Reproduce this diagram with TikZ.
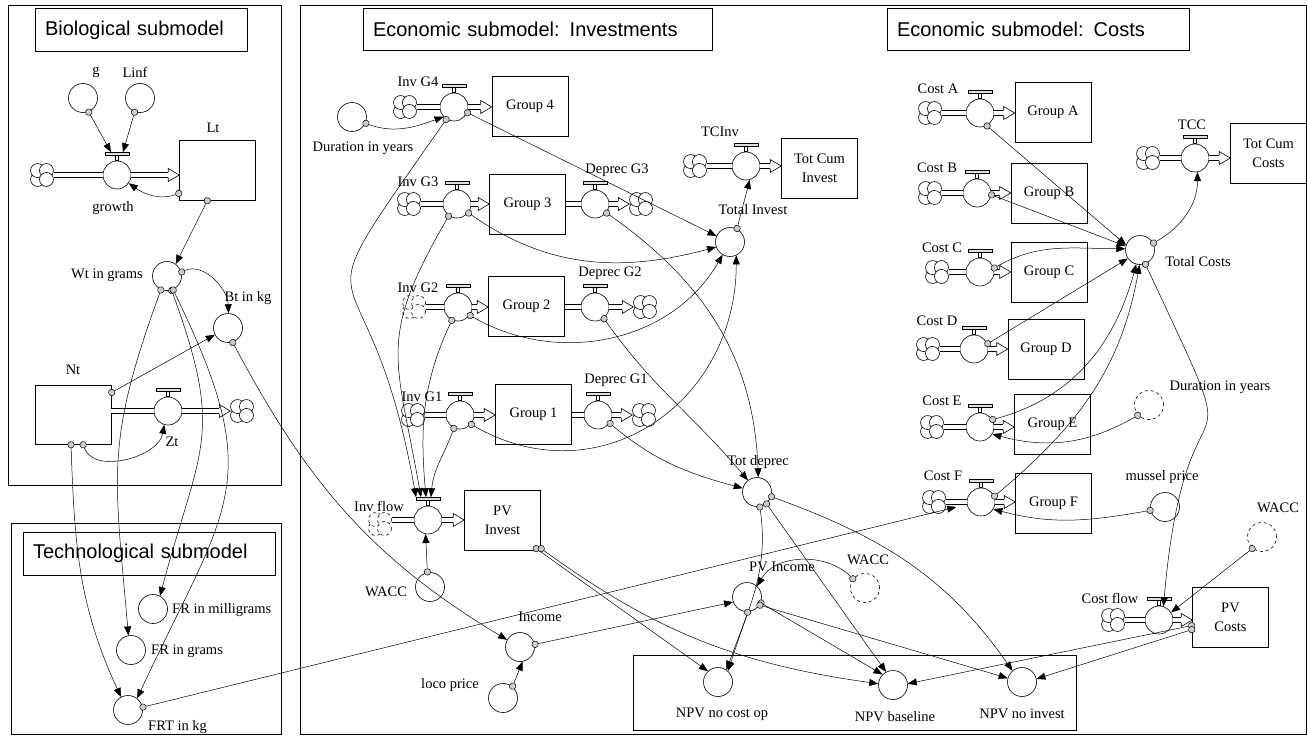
\documentclass[tikz,border=0pt]{standalone}
\usepackage{fontspec}
\setmainfont{Liberation Serif}
\newfontfamily\titlefont{Liberation Sans}
\usetikzlibrary{arrows.meta,calc}
\newcommand{\lblfont}{\fontsize{14.5}{19}\selectfont}
\newcommand{\mkvalve}[3]{%
  \node[valvec] (#1) at (#2,#3) {};
  \draw[line width=0.6pt, fill=white] ($(#1.north)+(-1.5,0)$) rectangle ($(#1.north)+(1.5,-5)$);
  \draw[line width=0.6pt, fill=gray!25] ($(#1.north)+(-12,-5)$) rectangle ($(#1.north)+(12,-8.5)$);
  \coordinate (#1-h) at ($(#1.north)+(0,-8.5)$);
}
\newcommand{\mkcloud}[4][]{%
  \node[cloudn] (#2) at (#3,#4) {};
  \foreach \ang in {135,-135,-45,45} \draw[line width=0.6pt, fill=white, #1] ($(#2)+(\ang:6.3)$) circle (7);
}
\newcommand{\pipeA}[2]{\draw[pipe] (#2.west -| #1.east) -- (#2.west);}
\newcommand{\pipeB}[2]{%
  \coordinate (#1-end) at (#1.east -| #2.west);
  \draw[pipe] (#1.east) -- ([xshift=-11pt]#1-end);
  \draw[line width=0.6pt, fill=white] ([xshift=-11pt,yshift=2.6pt]#1-end) -- ([xshift=-11pt,yshift=6.5pt]#1-end) -- (#1-end) -- ([xshift=-11pt,yshift=-6.5pt]#1-end) -- ([xshift=-11pt,yshift=-2.6pt]#1-end);
}
\tikzset{
  every node/.style={font=\lblfont},
  frame/.style={draw, line width=0.8pt},
  titlebox/.style={draw, line width=0.8pt, font=\titlefont\fontsize{20}{23}\selectfont, inner xsep=10pt, inner ysep=0pt, minimum height=43pt, align=left},
  conv/.style={draw, circle, minimum size=29pt, inner sep=0pt, line width=0.6pt},
  ghost/.style={conv, dashed},
  valvec/.style={draw, circle, minimum size=28pt, inner sep=0pt, line width=0.6pt, fill=white},
  stock/.style={draw, rectangle, minimum width=76pt, minimum height=60pt, inner sep=0pt, line width=0.6pt, align=center},
  cloudn/.style={circle, minimum size=23pt, inner sep=0pt},
  lbl/.style={inner sep=0pt},
  pipe/.style={double=white, double distance=4pt, line width=0.6pt},
  conn/.style={line width=0.5pt, shorten <=-3pt, {Circle[length=7pt, fill=gray!40]}-{Triangle[length=9pt, width=7pt]}},
}
\begin{document}
\begin{tikzpicture}[x=1pt,y=-1pt]
\useasboundingbox (0,0) rectangle (1307,736);
% frames
\draw[frame] (8,5) rectangle (281,485);
\draw[frame] (11,523) rectangle (281,734.5);
\draw[frame] (300,5) rectangle (1306.5,734.5);
\draw[frame] (633,655) rectangle (1076,730);
% titles
\node[titlebox, text width=192pt] (tbio) at (141,30) {Biological submodel};
\node[titlebox, text width=232pt] (ttech) at (149,553.5) {Technological submodel};
\node[titlebox, text width=329pt, minimum height=42pt] (tinv) at (537.5,29) {Economic submodel: Investments};
\node[titlebox, text width=282pt, minimum height=42pt] (tcost) at (1038,29) {Economic submodel: Costs};

% ---------- biological ----------
\node[conv] (g) at (83,98) {};
\node[lbl] (lg) at (96,72) {g};
\node[conv] (linf) at (140,98) {};
\node[lbl] (llinf) at (135,72) {Linf};
\mkcloud{cgrowth}{42}{175}
\mkvalve{growth}{117}{175}
\node[lbl] (lgrowth) at (113,208) {growth};
\node[stock] (Lt) at (217.5,170) {};
\node[lbl] (lLt) at (213,128) {Lt};
\pipeA{cgrowth}{growth}
\pipeB{growth}{Lt}
\node[conv] (wt) at (167,276) {};
\node[lbl] (lwt) at (107,275) {Wt in grams};
\node[conv] (bt) at (228,328) {};
\node[lbl] (lbt) at (248,298) {Bt in kg};
\node[stock, minimum height=59pt] (Nt) at (73,414.5) {};
\node[lbl] (lNt) at (73,370) {Nt};
\mkvalve{zt}{168}{411}
\mkcloud{czt}{242}{411}
\node[lbl] (lzt) at (172,442) {Zt};
\pipeA{Nt}{zt}
\pipeB{zt}{czt}
% technological
\node[conv] (frmg) at (153,609) {};
\node[lbl, anchor=west] (lfrmg) at (172,610) {FR in milligrams};
\node[conv] (frg) at (131,650) {};
\node[lbl, anchor=west] (lfrg) at (151,651) {FR in grams};
\node[conv] (frt) at (128,710) {};
\node[lbl, anchor=west] (lfrt) at (148,727) {FRT in kg};

% ---------- investments ----------
\node[conv] (dur) at (352,117) {};
\node[lbl] (ldur) at (363,148) {Duration in years};
\mkcloud{cinv4}{405}{107}
\mkvalve{inv4}{454}{107}
\node[lbl] (linv4) at (418,82) {Inv G4};
\node[stock] (g4) at (530,106) {Group 4};
\pipeA{cinv4}{inv4}
\pipeB{inv4}{g4}

\mkcloud{cinv3}{409}{204}
\mkvalve{inv3}{457}{204}
\node[lbl] (linv3) at (418,182) {Inv G3};
\node[stock] (g3) at (527.5,204.5) {Group 3};
\mkvalve{dep3}{595}{204}
\mkcloud{cdep3}{641}{204}
\node[lbl] (ldep3) at (617,170) {Deprec G3};
\pipeA{cinv3}{inv3}
\pipeB{inv3}{g3}
\pipeA{g3}{dep3}
\pipeB{dep3}{cdep3}

\mkcloud[dashed]{cinv2}{414}{307}
\mkvalve{inv2}{458}{307}
\node[lbl] (linv2) at (418,288) {Inv G2};
\node[stock] (g2) at (526.5,306.5) {Group 2};
\mkvalve{dep2}{595}{307}
\mkcloud{cdep2}{645}{307}
\node[lbl] (ldep2) at (610,273) {Deprec G2};
\pipeA{cinv2}{inv2}
\pipeB{inv2}{g2}
\pipeA{g2}{dep2}
\pipeB{dep2}{cdep2}

\mkcloud{cinv1}{413}{415}
\mkvalve{inv1}{460}{415}
\node[lbl] (linv1) at (422,397) {Inv G1};
\node[stock] (g1) at (533.5,414.5) {Group 1};
\mkvalve{dep1}{598}{415}
\mkcloud{cdep1}{644}{415}
\node[lbl] (ldep1) at (616,380) {Deprec G1};
\pipeA{cinv1}{inv1}
\pipeB{inv1}{g1}
\pipeA{g1}{dep1}
\pipeB{dep1}{cdep1}

\node[conv] (totinv) at (730,242) {};
\node[lbl] (ltotinv) at (753,210) {Total Invest};
\mkcloud{ctcinv}{695}{166}
\mkvalve{tcinv}{746}{166}
\node[lbl] (ltcinv) at (720,132) {TCInv};
\node[stock] (tci) at (819.5,168.5) {Tot Cum\\Invest};
\pipeA{ctcinv}{tcinv}
\pipeB{tcinv}{tci}

\node[conv] (totdep) at (757,492) {};
\node[lbl] (ltotdep) at (758,462) {Tot deprec};
\mkcloud[dashed]{cinvflow}{380}{524}
\mkvalve{invflow}{428}{520}
\node[lbl] (linvflow) at (379,506) {Inv flow};
\node[stock] (pvinv) at (502.5,520) {PV\\Invest};
\pipeA{cinvflow}{invflow}
\pipeB{invflow}{pvinv}
\node[conv] (wacc1) at (430,587) {};
\node[lbl] (lwacc1) at (386,592) {WACC};
\node[conv] (income) at (520,647) {};
\node[lbl] (lincome) at (540,617) {Income};
\node[conv] (loco) at (503,698) {};
\node[lbl] (lloco) at (450,685) {loco price};
\node[conv] (pvinc) at (747,597) {};
\node[lbl] (lpvinc) at (782,567) {PV Income};
\node[ghost] (wacc2) at (865,588) {};
\node[lbl] (lwacc2) at (868,560) {WACC};
\node[conv] (npv1) at (718,682) {};
\node[lbl] (lnpv1) at (722,714) {NPV no cost op};
\node[conv] (npv2) at (893,685) {};
\node[lbl] (lnpv2) at (895,717) {NPV baseline};
\node[conv] (npv3) at (1022,682) {};
\node[lbl] (lnpv3) at (1022,714) {NPV no invest};

% ---------- costs ----------
\mkcloud{cA}{930}{113}
\mkvalve{costA}{980}{113}
\node[lbl] (lcostA) at (938,89) {Cost A};
\node[stock] (gA) at (1053,112) {Group A};
\pipeA{cA}{costA}
\pipeB{costA}{gA}
\mkcloud{cB}{930}{193}
\mkvalve{costB}{977}{193}
\node[lbl] (lcostB) at (937,168) {Cost B};
\node[stock] (gB) at (1049,193) {Group B};
\pipeA{cB}{costB}
\pipeB{costB}{gB}
\mkcloud{cC}{937}{272}
\mkvalve{costC}{980}{272}
\node[lbl] (lcostC) at (942,248) {Cost C};
\node[stock] (gC) at (1049,272.5) {Group C};
\pipeA{cC}{costC}
\pipeB{costC}{gC}
\mkcloud{cD}{928}{349}
\mkvalve{costD}{974}{349}
\node[lbl] (lcostD) at (937,321) {Cost D};
\node[stock] (gD) at (1046,349) {Group D};
\pipeA{cD}{costD}
\pipeB{costD}{gD}
\mkcloud{cE}{932}{427}
\mkvalve{costE}{980}{427}
\node[lbl] (lcostE) at (942,401) {Cost E};
\node[stock] (gE) at (1052.5,424.5) {Group E};
\pipeA{cE}{costE}
\pipeB{costE}{gE}
\mkcloud{cF}{934}{502}
\mkvalve{costF}{981}{502}
\node[lbl] (lcostF) at (943,476) {Cost F};
\node[stock] (gF) at (1053.5,503) {Group F};
\pipeA{cF}{costF}
\pipeB{costF}{gF}
\coordinate (costFp) at ($(cF.east)!0.5!(costF.west)$);

\node[conv] (totcost) at (1140,250) {};
\node[lbl] (ltotcost) at (1198,262) {Total Costs};
\mkcloud{ctcc}{1148}{158}
\mkvalve{tcc}{1195}{158}
\node[lbl] (ltcc) at (1192,125) {TCC};
\node[stock] (tcs) at (1268.5,153) {Tot Cum\\Costs};
\pipeA{ctcc}{tcc}
\pipeB{tcc}{tcs}
\node[ghost] (dur2) at (1149,405) {};
\node[lbl] (ldur2) at (1220,387) {Duration in years};
\node[conv] (mussel) at (1165,507) {};
\node[lbl] (lmussel) at (1162,477) {mussel price};
\node[ghost] (wacc3) at (1262,537) {};
\node[lbl] (lwacc3) at (1278,508) {WACC};
\mkcloud{ccf}{1113}{620}
\mkvalve{costflow}{1159}{620}
\node[lbl] (lcostflow) at (1110,598) {Cost flow};
\node[stock] (pvcost) at (1230.5,617.5) {PV\\Costs};
\pipeA{ccf}{costflow}
\pipeB{costflow}{pvcost}

% ---------- connectors: biological / technological ----------
\draw[conn] (g.-68) -- ([xshift=-6pt]growth-h);
\draw[conn] (linf.-111) -- ([xshift=6pt]growth-h);
\draw[conn] ([yshift=7pt]Lt.south west) to[out=-160,in=-35] (growth.-35);
\draw[conn] ([xshift=-10pt]Lt.south) -- (wt.54);
\draw[conn] (wt.15) to[out=25,in=92] (bt.88);
\draw[conn] ([yshift=-8pt]Nt.north east) -- (bt.-153);
\draw[conn] ([xshift=10pt]Nt.south) to[out=-70,in=-100] (zt.-105);
\draw[conn] ([xshift=-2pt]Nt.south) to[out=-88,in=115] (frt.118);
\draw[conn] (wt.-114) to[out=-110,in=95,looseness=1.2] (frg.100);
\draw[conn] (wt.-72) to[out=-70,in=75,looseness=1.3] (frmg.62);
\draw[conn] (wt.-66) to[out=-64,in=65,looseness=1.35] (frt.52);
\draw[conn] (bt.-72) to[out=-62,in=149] (income.151);
\draw[conn] (frt.11) -- ([yshift=-5pt]costFp);

% ---------- connectors: investments ----------
\draw[conn] (dur.-25) to[out=-20,in=-160] (inv4.-137);
\draw[conn] (inv4.-122) to[out=-125,in=100,looseness=1.9] ([xshift=-12pt]invflow-h);
\draw[conn] (inv3.-125) to[out=-120,in=100,looseness=1.3] ([xshift=-7pt]invflow-h);
\draw[conn] (inv2.-115) to[out=-115,in=95] ([xshift=-2pt]invflow-h);
\draw[conn] (inv1.-115) to[out=-110,in=85] ([xshift=3pt]invflow-h);
\draw[conn] (inv4.-23) -- (totinv.156);
\draw[conn] (inv3.-38) to[out=-35,in=-165] (totinv.-160);
\draw[conn] (inv2.-35) to[out=-30,in=-120] (totinv.-120);
\draw[conn] (inv1.-40) to[out=-30,in=-90,looseness=1.2] (totinv.-65);
\draw[conn] (dep3.-38) to[out=-35,in=92] (totdep.85);
\draw[conn] (dep2.-52) to[out=-55,in=130] (totdep.128);
\draw[conn] (dep1.-35) to[out=-40,in=165] (totdep.165);
\draw[conn] (totinv.62) -- (tcinv.-75);
\draw[conn] (wacc1.100) -- (invflow.-100);
\draw[conn] (loco.50) -- (income.-80);
\draw[conn] (income.10) -- (pvinc.-160);
\draw[conn] ([xshift=-5pt,yshift=2pt]pvinv.south east) -- (npv1.133);
\draw[conn] ([yshift=2pt]pvinv.south east) to[out=-36,in=172] (npv2.175);
\draw[conn] (totdep.-79) to[out=-82,in=70] (npv1.55);
\draw[conn] (pvinc.-87) -- (npv1.48);
\draw[conn] (totdep.-51) -- (npv2.118);
\draw[conn] (totdep.-18) to[out=-20,in=125] (npv3.130);
\draw[conn] (pvinc.-23) -- (npv2.135);
\draw[conn] (pvinc.-33) -- (npv3.165);
\draw[conn] (wacc2.143) to[out=135,in=60] (pvinc.47);

% ---------- connectors: costs ----------
\draw[conn] (costA.-62) -- (totcost.160);
\draw[conn] (costB.-7) -- (totcost.165);
\draw[conn] (costC.15) to[out=30,in=180] (totcost.175);
\draw[conn] (costD.21) -- (totcost.-145);
\draw[conn] (costE.31) to[out=15,in=-105] (totcost.-105);
\draw[conn] (costF.23) to[out=40,in=-100] (totcost.-92);
\draw[conn] (totcost.27) to[out=30,in=-90] (tcc.-80);
\draw[conn] (totcost.-69) to[out=-65,in=85,looseness=2] (costflow.72);
\draw[conn] (wacc3.-130) -- (costflow.32);
\draw[conn] (dur2.-137) to[out=-150,in=-15] (costE.-30);
\draw[conn] (mussel.-167) to[out=-170,in=-15] (costF.-30);
\draw[conn] ([yshift=-8pt]pvcost.west) -- (npv2.5);
\draw[conn] ([yshift=-12pt]pvcost.west) -- (npv3.12);
\end{tikzpicture}
\end{document}
